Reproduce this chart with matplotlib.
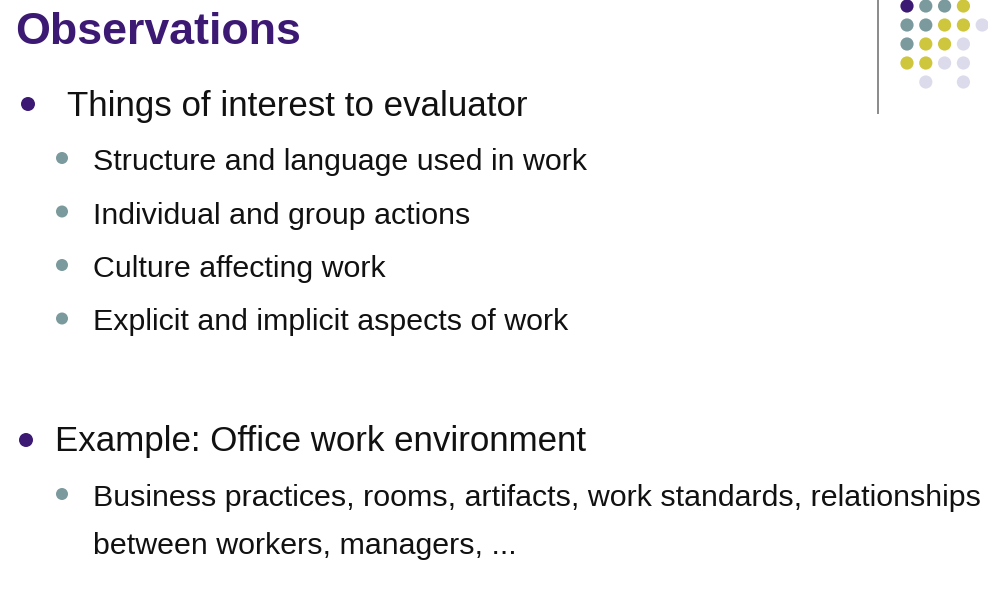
import matplotlib
matplotlib.use("Agg")
import matplotlib.pyplot as plt
from matplotlib.patches import Circle
from matplotlib import font_manager

W, H = 988, 596

PURPLE = "#3c1a74"
TEAL = "#7b9a9d"
YELLOW = "#cec63c"
LAVENDER = "#dcdbec"
TEXT = "#111111"

TITLE = "Observations"

# level-1 bullets and their sub-bullets
LEVEL1 = ["Things of interest to evaluator", "Example: Office work environment"]
SUB1 = [
    "Structure and language used in work",
    "Individual and group actions",
    "Culture affecting work",
    "Explicit and implicit aspects of work",
]
SUB2 = [
    "Business practices, rooms, artifacts, work standards, relationships",
    "between workers, managers, ...",
]

# decorative dot grid, top right (row, col, colour)
GRID_ROWS = [0, 0, 0, 0, 1, 1, 1, 1, 1, 2, 2, 2, 2, 3, 3, 3, 3, 4, 4]
GRID_COLS = [0, 1, 2, 3, 0, 1, 2, 3, 4, 0, 1, 2, 3, 0, 1, 2, 3, 1, 3]
GRID_COLORS = [PURPLE, TEAL, TEAL, YELLOW,
               TEAL, TEAL, YELLOW, YELLOW, LAVENDER,
               TEAL, YELLOW, YELLOW, LAVENDER,
               YELLOW, YELLOW, LAVENDER, LAVENDER,
               LAVENDER, LAVENDER]

names = {f.name for f in font_manager.fontManager.ttflist}
if "Liberation Sans Narrow" in names:
    FAMILY = ["Liberation Sans Narrow", "DejaVu Sans"]
    scale = 1.0
else:
    FAMILY = ["Liberation Sans", "DejaVu Sans"]
    scale = 0.82

fig = plt.figure(figsize=(W / 100, H / 100), dpi=100)
ax = fig.add_axes([0, 0, 1, 1])
ax.set_xlim(0, W)
ax.set_ylim(H, 0)
ax.axis("off")

pt = 72 / 100  # pixels -> points

ax.text(15, 44, TITLE, family=FAMILY, fontweight="bold", color=PURPLE,
        fontsize=54.6 * scale * pt, va="baseline", ha="left")


def dot(x, y, r, c):
    ax.add_patch(Circle((x, y), r, color=c, lw=0))


l1_size = 42.5 * scale * pt
sub_size = 37 * scale * pt

# first block
dot(28, 104, 7, PURPLE)
ax.text(67, 116, LEVEL1[0], family=FAMILY, fontsize=l1_size, color=TEXT,
        va="baseline")
for i, s in enumerate(SUB1):
    y = 158 + i * 53.5
    dot(62, y, 6, TEAL)
    ax.text(93, y + 12, s, family=FAMILY, fontsize=sub_size, color=TEXT,
            va="baseline")

# second block
dot(26, 440, 7, PURPLE)
ax.text(55, 451, LEVEL1[1], family=FAMILY, fontsize=l1_size, color=TEXT,
        va="baseline")
dot(62, 494, 6, TEAL)
for i, s in enumerate(SUB2):
    ax.text(93, 506 + i * 48, s, family=FAMILY, fontsize=sub_size, color=TEXT,
            va="baseline")

# dot grid and divider line
for r, c, col in zip(GRID_ROWS, GRID_COLS, GRID_COLORS):
    dot(907 + c * 18.8, 6 + r * 19, 6.6, col)
ax.plot([878, 878], [0, 113], color="#8a8a8a", lw=1.4)

fig.savefig("out.png", dpi=100)
